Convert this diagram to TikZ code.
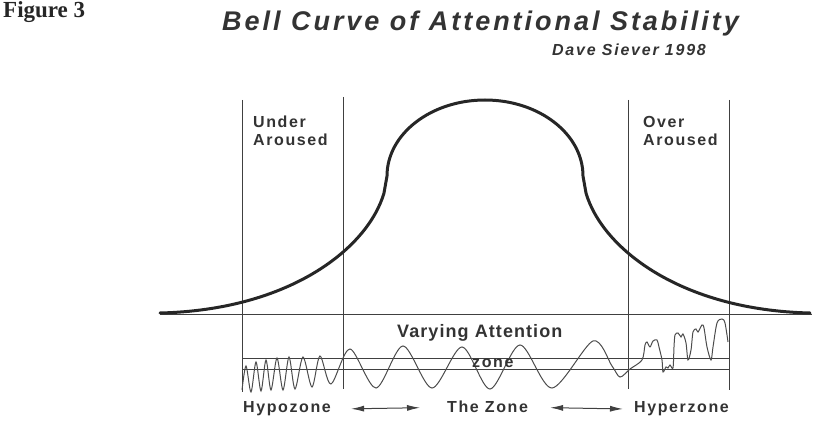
\documentclass[tikz,border=0pt]{standalone}
\usepackage{fontspec}
\setmainfont{Liberation Serif}
\setsansfont{Liberation Sans}
\newfontfamily\titlefont[LetterSpace=11]{Liberation Sans}
\newfontfamily\labelfont[LetterSpace=10]{Liberation Sans}
\newfontfamily\attnfont[LetterSpace=6]{Liberation Sans}
\usetikzlibrary{arrows.meta}

\tikzset{
	thinline/.style={draw=black!75, line width=0.9pt},
	bell/.style={draw=black!85, line width=3pt, line cap=round},
	wave/.style={draw=black!70, line width=1pt},
	lbl/.style={inner sep=0pt, text=black!80, font=\labelfont\bfseries\fontsize{16}{18}\selectfont},
	zonearrow/.style={{Latex[length=13pt,width=6pt]}-{Latex[length=13pt,width=6pt]}, line width=1pt, black!75},
}

\begin{document}
\begin{tikzpicture}[x=1pt,y=-1pt]
	\useasboundingbox (0,0) rectangle (823,430);
	
	% Titles
	\node[inner sep=0pt, anchor=base west, text=black!85, font=\rmfamily\bfseries\fontsize{23}{26}\selectfont] (fig) at (3,18) {Figure 3};
	\node[inner sep=0pt, anchor=base west, text=black!80, font=\titlefont\bfseries\itshape\fontsize{27}{30}\selectfont] (title) at (222,31) {Bell Curve of Attentional Stability};
	\node[inner sep=0pt, anchor=base west, text=black!80, font=\titlefont\bfseries\itshape\fontsize{16}{18}\selectfont] (author) at (552,56) {Dave Siever 1998};
	
	% Lines
	\foreach \xv/\ytop/\ybot in {242/100/392, 343/97/389, 628/100/389, 729/100/390} {
		\draw[thinline] (\xv,\ytop) -- (\xv,\ybot);
	}
	\draw[thinline] (160,314) -- (812,314);
	\foreach \yv in {358, 369} {
		\draw[thinline] (242,\yv) -- (729,\yv);
	}
	
	% Bell curve
	\draw[bell] (160,313) .. controls (290,310) and (368,248) .. (384,193) -- (387,176)
		.. controls (387,134) and (431,100) .. (485,100)
		.. controls (539,100) and (583,134) .. (583,176) -- (586,193)
		.. controls (602,248) and (680,310) .. (810,313);
	
	% Attention wave
	\draw[wave] plot[smooth, tension=0.5] coordinates {
		(242,390) (246,366) (251,392) (256,362) (261,391) (266,360) (271,390) (277,358)
		(283,390) (289,357) (295,389) (303,357) (312,387) (320,356) (331,384) (350,349)
		(376,388) (403,346) (432,388) (462,347) (490,389) (520,345) (552,388) (593,341)
		(612,366) (620,377) (630,369) (642,360) (645,345) (647,342) (650,347) (653,341)
		(657,340) (659,347) (662,360) (663,372) (666,367) (668,368) (670,365) (673,368)
		(674,347) (675,335) (678,333) (681,337) (683,334) (686,343) (688,360) (691,350)
		(693,332) (696,329) (698,332) (702,325) (704,328) (707,347) (711,360) (713,347)
		(717,323) (722,319) (725,323) (728,342)};
	
	% Region labels
	\node[lbl, anchor=north west, align=left] (under) at (253,116) {Under\\Aroused};
	\node[lbl, anchor=north west, align=left] (over) at (643,116) {Over\\Aroused};
	\node[inner sep=0pt, anchor=base west, text=black!80, font=\attnfont\bfseries\fontsize{18}{20}\selectfont] (varying) at (397,338) {Varying Attention};
	\node[lbl, anchor=base west] (zonetxt) at (472,368) {zone};
	
	% Legend
	\node[lbl, anchor=base west] (hypo) at (243,413) {Hypozone};
	\node[lbl, anchor=base west] (thezone) at (447,413) {The Zone};
	\node[lbl, anchor=base west] (hyper) at (634,413) {Hyperzone};
	
	\draw[zonearrow, shorten <=20pt, shorten >=27pt] (hypo.east) -- (thezone.west);
	\draw[zonearrow, shorten <=22pt, shorten >=11pt] (thezone.east) -- (hyper.west);
\end{tikzpicture}
\end{document}
